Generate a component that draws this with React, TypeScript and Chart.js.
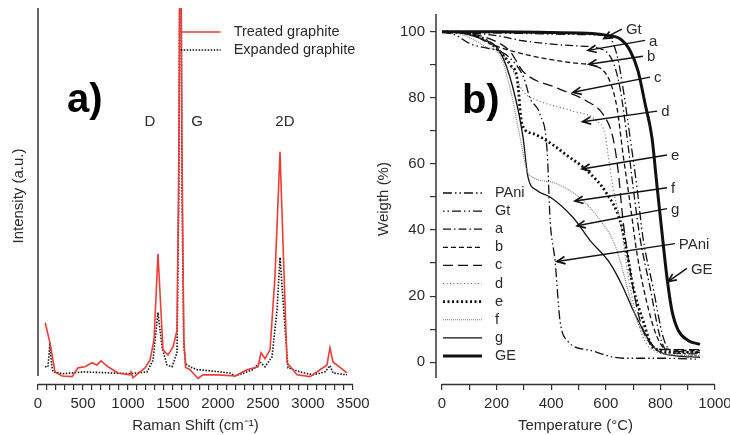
import React, { useEffect, useRef } from "react";
import { Chart, registerables } from "chart.js";
Chart.register(...registerables);

const FONT = "'Liberation Sans', Arial, Helvetica, sans-serif";
const TEXT = "#2b2b2b";
const AXIS = "#333333";
const RED = "#ee3d37";

// ---------- Panel a: Raman spectra ----------
const treatedShift = [80, 133, 189, 267, 378, 444, 522, 600, 655, 700, 778, 889, 1022, 1033, 1055, 1111, 1189, 1244, 1289, 1333, 1367, 1389, 1444, 1500, 1544, 1565, 1582, 1600, 1620, 1640, 1689, 1722, 1778, 1833, 1989, 2189, 2322, 2444, 2478, 2522, 2578, 2633, 2689, 2722, 2767, 2878, 3022, 3211, 3244, 3278, 3433];
const treatedIntensity = [14.2, 8.7, 0.8, -0.3, -0.5, 1.9, 2.2, 3.3, 2.7, 3.8, 2.2, 0.5, 0, 0.8, -0.8, 0.3, 1.9, 4, 9.5, 33, 17, 6.8, 5.4, 7.6, 12, 60, 150, 60, 10, 2, 1.4, 0.5, -1, 0, 0, -0.3, 1.4, 2.2, 6, 4.4, 6.8, 26.7, 60.8, 36, 3.3, 0, -0.5, 2.7, 7.4, 3.5, 0.5];
const expandedShift = [78, 111, 133, 150, 167, 278, 500, 833, 1022, 1211, 1278, 1333, 1378, 1433, 1489, 1544, 1565, 1582, 1600, 1620, 1640, 1689, 1767, 1911, 2133, 2189, 2389, 2467, 2522, 2600, 2656, 2689, 2744, 2778, 2911, 3056, 3189, 3244, 3278, 3433];
const expandedIntensity = [2.2, 2.2, 8.7, 3, 0.8, 0.3, 0.8, 0.5, 0.3, 0.8, 4, 17, 7.6, 2.7, 2.2, 6, 50, 150, 50, 8, 3, 2.2, 1.4, 1.1, 0.5, -0.3, 1.4, 3.5, 2.2, 4.9, 17.7, 32, 13, 1.9, 0.8, 0, 0.8, 2.5, 0.5, 0];
const ramanSeriesNames = ["Treated graphite", "Expanded graphite"];
const ramanPeakNames = ["D", "G", "2D"];
const ramanPeakShift = [1244, 1767, 2744];
const ramanPeakLevel = 69;

// ---------- Panel b: TGA ----------
const tgaNames = ["PAni", "Gt", "a", "b", "c", "d", "e", "f", "g", "GE"];
const tPAni = [0, 50, 100, 168, 200, 250, 300, 322, 359, 385, 396, 414, 432, 458, 542, 663, 810, 940];
const wPAni = [100, 99, 96.5, 95, 94.5, 92, 86, 80, 75, 64, 43, 30.8, 12.7, 6.6, 3.6, 1.2, 1.2, 0.9];
const tGt = [0, 100, 300, 500, 604, 641, 663, 689, 714, 736, 773, 810, 840, 945];
const wGt = [100, 99.8, 99.5, 99.2, 98.8, 93, 83, 68, 53, 37.8, 22.7, 7.6, 3.5, 3];
const tA = [0, 100, 205, 297, 480, 579, 626, 652, 678, 700, 725, 762, 799, 830, 945];
const wA = [100, 99.7, 98.8, 97.3, 95.8, 94.9, 91, 83, 68, 53, 37.8, 22.7, 7.6, 3, 2.5];
const tB = [0, 100, 176, 297, 480, 579, 615, 641, 663, 689, 714, 751, 788, 820, 945];
const wB = [100, 99.5, 96.4, 93.3, 90.6, 89, 85, 77, 63, 48, 33, 17.8, 7.6, 4, 3.5];
const tC = [0, 100, 200, 250, 297, 421, 531, 590, 626, 645, 663, 689, 725, 770, 820, 945];
const wC = [100, 99.5, 97, 94, 88, 83, 79, 75, 68, 58, 43, 27.8, 12.7, 5, 3.8, 3.8];
const tD = [0, 100, 200, 250, 297, 359, 480, 568, 597, 608, 626, 652, 689, 736, 790, 850, 945];
const wD = [100, 99.5, 95, 90, 82, 79, 76, 73, 69, 63, 53, 43, 22.7, 7.6, 3, 2.2, 2];
const tE = [0, 100, 200, 250, 275, 293, 333, 403, 451, 531, 604, 652, 678, 700, 736, 773, 850, 945];
const wE = [100, 99.5, 95, 90, 86, 72, 69.2, 66, 63, 58, 51, 42.9, 33, 22.7, 12.7, 4.5, 3, 3];
const tF = [0, 60, 120, 161, 212, 249, 286, 311, 333, 421, 516, 579, 626, 652, 678, 714, 762, 850, 945];
const wF = [100, 99.5, 97.5, 95.5, 93, 83, 68, 58, 56, 54, 49, 43, 36.9, 30.8, 22.7, 12.7, 5.7, 2.2, 2];
const tG = [0, 80, 139, 212, 260, 297, 315, 348, 396, 480, 542, 615, 663, 700, 751, 788, 850, 945];
const wG = [100, 99.5, 98, 94, 83, 68, 56, 52, 50, 43.8, 36.9, 30, 22.7, 15.7, 7.6, 3.6, 2, 1.5];
const tGE = [0, 200, 400, 550, 600, 652, 689, 718, 744, 769, 788, 810, 824, 842, 865, 901, 945];
const wGE = [100, 100, 99.8, 99.5, 99, 97.9, 94.3, 88.2, 78.2, 68, 53, 36, 25.7, 15.7, 9.7, 6.6, 5.4];

const arrowLabels = ["Gt", "a", "b", "c", "d", "e", "f", "g", "PAni", "GE"];
const arrowTailT = [659, 744, 736, 762, 788, 824, 824, 824, 853, 897];
const arrowTailW = [100.8, 97.4, 92.6, 86.3, 76.0, 62.7, 52.8, 46.5, 35.9, 28.4];
const arrowHeadT = [593, 535, 538, 480, 515, 513, 487, 495, 421, 828];
const arrowHeadW = [98.0, 94.4, 90.2, 81.7, 72.8, 58.5, 48.8, 41.3, 30.5, 24.4];

const tgaStyles = [
  { color: "#111", width: 1.3, dash: [9, 3, 1.5, 3, 1.5, 3] },
  { color: "#111", width: 1.3, dash: [1.5, 3, 1.5, 3, 9, 3] },
  { color: "#111", width: 1.3, dash: [8, 3, 1.5, 3] },
  { color: "#111", width: 1.3, dash: [5, 3] },
  { color: "#111", width: 1.3, dash: [10, 5] },
  { color: "#666", width: 1.2, dash: [1, 2.5] },
  { color: "#111", width: 2.8, dash: [2, 2.5] },
  { color: "#888", width: 1.2, dash: [1, 1] },
  { color: "#111", width: 1.3, dash: [] },
  { color: "#111", width: 3, dash: [] },
];

const pts = (xs: number[], ys: number[]) => xs.map((x, i) => ({ x, y: ys[i] }));

function drawAxisLines(chart: any, yGap: number, xFrom: number, xTo: number) {
  const { ctx, chartArea } = chart;
  const xs = chart.scales.x;
  ctx.save();
  ctx.strokeStyle = AXIS;
  ctx.lineWidth = 1.5;
  ctx.setLineDash([]);
  ctx.beginPath();
  ctx.moveTo(chartArea.left, chartArea.top);
  ctx.lineTo(chartArea.left, chartArea.bottom - yGap);
  ctx.stroke();
  ctx.beginPath();
  ctx.moveTo(xs.getPixelForValue(xFrom), chartArea.bottom + 0.5);
  ctx.lineTo(xs.getPixelForValue(xTo), chartArea.bottom + 0.5);
  ctx.stroke();
  ctx.restore();
}

const panelAPlugin = {
  id: "panelA",
  afterDraw(chart: any) {
    const { ctx } = chart;
    const xs = chart.scales.x;
    const ys = chart.scales.y;
    drawAxisLines(chart, 8, 0, 3500);
    ctx.save();
    ctx.fillStyle = TEXT;
    ctx.font = `15px ${FONT}`;
    ctx.textAlign = "center";
    ctx.textBaseline = "middle";
    ramanPeakNames.forEach((n, i) => {
      ctx.fillText(n, xs.getPixelForValue(ramanPeakShift[i]), ys.getPixelForValue(ramanPeakLevel));
    });
    ctx.fillStyle = "#000";
    ctx.font = `bold 40px ${FONT}`;
    ctx.textAlign = "left";
    ctx.textBaseline = "alphabetic";
    ctx.fillText("a)", xs.getPixelForValue(322), ys.getPixelForValue(71.7));
    // legend
    const gX = xs.getPixelForValue(1585);
    ctx.font = `14.5px ${FONT}`;
    ctx.textBaseline = "middle";
    chart.data.datasets.forEach((ds: any, i: number) => {
      const y = chart.chartArea.top + 24 + i * 18;
      ctx.strokeStyle = ds.borderColor;
      ctx.lineWidth = ds.borderWidth;
      ctx.setLineDash(ds.borderDash || []);
      ctx.beginPath();
      ctx.moveTo(gX, y);
      ctx.lineTo(gX + 40, y);
      ctx.stroke();
      ctx.fillStyle = TEXT;
      ctx.fillText(ds.label, gX + 53, y);
    });
    ctx.restore();
  },
};

const panelBPlugin = {
  id: "panelB",
  afterDraw(chart: any) {
    const { ctx, chartArea } = chart;
    const xs = chart.scales.x;
    const ys = chart.scales.y;
    drawAxisLines(chart, 6, 0, 1000);
    ctx.save();
    ctx.fillStyle = "#000";
    ctx.font = `bold 40px ${FONT}`;
    ctx.textAlign = "left";
    ctx.textBaseline = "alphabetic";
    ctx.fillText("b)", xs.getPixelForValue(73), ys.getPixelForValue(75.5));
    // arrows
    ctx.strokeStyle = "#111";
    ctx.lineWidth = 1.4;
    ctx.setLineDash([]);
    ctx.font = `15px ${FONT}`;
    ctx.textBaseline = "middle";
    arrowLabels.forEach((lab, i) => {
      const x1 = xs.getPixelForValue(arrowTailT[i]);
      const y1 = ys.getPixelForValue(arrowTailW[i]);
      const x2 = xs.getPixelForValue(arrowHeadT[i]);
      const y2 = ys.getPixelForValue(arrowHeadW[i]);
      ctx.beginPath();
      ctx.moveTo(x1, y1);
      ctx.lineTo(x2, y2);
      ctx.stroke();
      const a = Math.atan2(y1 - y2, x1 - x2);
      const L = 9;
      ctx.lineWidth = 1.7;
      ctx.beginPath();
      ctx.moveTo(x2 + L * Math.cos(a + 0.42), y2 + L * Math.sin(a + 0.42));
      ctx.lineTo(x2, y2);
      ctx.lineTo(x2 + L * Math.cos(a - 0.42), y2 + L * Math.sin(a - 0.42));
      ctx.stroke();
      ctx.lineWidth = 1.4;
      ctx.fillStyle = TEXT;
      ctx.fillText(lab, x1 + 4, y1 + 1);
    });
    // legend
    ctx.font = `14.5px ${FONT}`;
    chart.data.datasets.forEach((ds: any, i: number) => {
      const y = chartArea.top + 179 + i * 18.1;
      ctx.strokeStyle = ds.borderColor;
      ctx.lineWidth = ds.borderWidth;
      ctx.setLineDash(ds.borderDash || []);
      ctx.beginPath();
      ctx.moveTo(chartArea.left + 7, y);
      ctx.lineTo(chartArea.left + 46, y);
      ctx.stroke();
      ctx.fillStyle = TEXT;
      ctx.fillText(ds.label, chartArea.left + 59, y);
    });
    ctx.restore();
  },
};

const tickFont = { family: FONT, size: 15 };
const titleFont = { family: FONT, size: 15 };

export default function App() {
  const aRef = useRef<HTMLCanvasElement>(null);
  const bRef = useRef<HTMLCanvasElement>(null);

  useEffect(() => {
    const chartA = new Chart(aRef.current!, {
      type: "line",
      data: {
        datasets: [
          { label: ramanSeriesNames[0], data: pts(treatedShift, treatedIntensity), borderColor: RED, borderWidth: 1.6, pointRadius: 0, tension: 0 },
          { label: ramanSeriesNames[1], data: pts(expandedShift, expandedIntensity), borderColor: "#111", borderWidth: 1.6, borderDash: [1.5, 1.5], pointRadius: 0, tension: 0 },
        ],
      },
      options: {
        animation: false,
        responsive: false,
        layout: { padding: { top: 8, right: 27, left: 0, bottom: 0 } },
        plugins: { legend: { display: false }, tooltip: { enabled: false } },
        scales: {
          x: {
            type: "linear", min: 0, max: 3500,
            border: { display: false },
            grid: { drawOnChartArea: false, drawTicks: true, tickLength: 6, color: AXIS, lineWidth: 1.2 },
            ticks: { stepSize: 100, autoSkip: false, maxRotation: 0, padding: 5, color: TEXT, font: tickFont, callback: (v: any) => (Number(v) % 500 === 0 ? String(v) : "") },
            title: { display: true, text: "Raman Shift (cm⁻¹)", color: TEXT, font: titleFont, padding: { top: 2, bottom: 0 } },
            afterFit: (s: any) => { s.height = 51; },
          },
          y: {
            type: "linear", min: -2.5, max: 100,
            border: { display: false },
            grid: { display: false },
            ticks: { display: false },
            title: { display: true, text: "Intensity (a.u.)", color: TEXT, font: titleFont, padding: { top: 10, bottom: 0 } },
            afterFit: (s: any) => { s.width = 38; },
          },
        },
      },
      plugins: [panelAPlugin],
    } as any);

    const tgaT = [tPAni, tGt, tA, tB, tC, tD, tE, tF, tG, tGE];
    const tgaW = [wPAni, wGt, wA, wB, wC, wD, wE, wF, wG, wGE];
    const chartB = new Chart(bRef.current!, {
      type: "line",
      data: {
        datasets: tgaNames.map((n, i) => ({
          label: n,
          data: pts(tgaT[i], tgaW[i]),
          borderColor: tgaStyles[i].color,
          borderWidth: tgaStyles[i].width,
          borderDash: tgaStyles[i].dash,
          pointRadius: 0,
          cubicInterpolationMode: "monotone",
        })),
      },
      options: {
        animation: false,
        responsive: false,
        layout: { padding: { top: 13, right: 25, left: 0, bottom: 0 } },
        plugins: { legend: { display: false }, tooltip: { enabled: false } },
        scales: {
          x: {
            type: "linear", min: -22, max: 1000,
            border: { display: false },
            grid: { drawOnChartArea: false, drawTicks: true, tickLength: 6, color: AXIS, lineWidth: 1.2 },
            ticks: { stepSize: 100, includeBounds: false, autoSkip: false, maxRotation: 0, padding: 5, color: TEXT, font: tickFont, callback: (v: any) => (Number(v) % 200 === 0 ? String(v) : "") },
            title: { display: true, text: "Temperature (°C)", color: TEXT, font: titleFont, padding: { top: 2, bottom: 0 } },
            afterFit: (s: any) => { s.height = 51; },
          },
          y: {
            type: "linear", min: -6.6, max: 105.4,
            border: { display: false },
            grid: { drawOnChartArea: false, drawTicks: true, tickLength: 6, color: AXIS, lineWidth: 1.2 },
            ticks: { stepSize: 10, includeBounds: false, autoSkip: false, padding: 5, color: TEXT, font: tickFont, callback: (v: any) => (Number(v) % 20 === 0 ? String(v) : "") },
            title: { display: true, text: "Weigth (%)", color: TEXT, font: titleFont, padding: { top: 10, bottom: 0 } },
            afterFit: (s: any) => { s.width = 71; },
          },
        },
      },
      plugins: [panelBPlugin],
    } as any);

    return () => {
      chartA.destroy();
      chartB.destroy();
    };
  }, []);

  return (
    <div style={{ position: "fixed", left: 0, top: 0, width: 730, height: 435, overflow: "hidden", background: "#fff" }}>
      <canvas ref={aRef} width={380} height={435} style={{ position: "absolute", left: 0, top: 0 }} />
      <canvas ref={bRef} width={375} height={435} style={{ position: "absolute", left: 365, top: 0 }} />
    </div>
  );
}
